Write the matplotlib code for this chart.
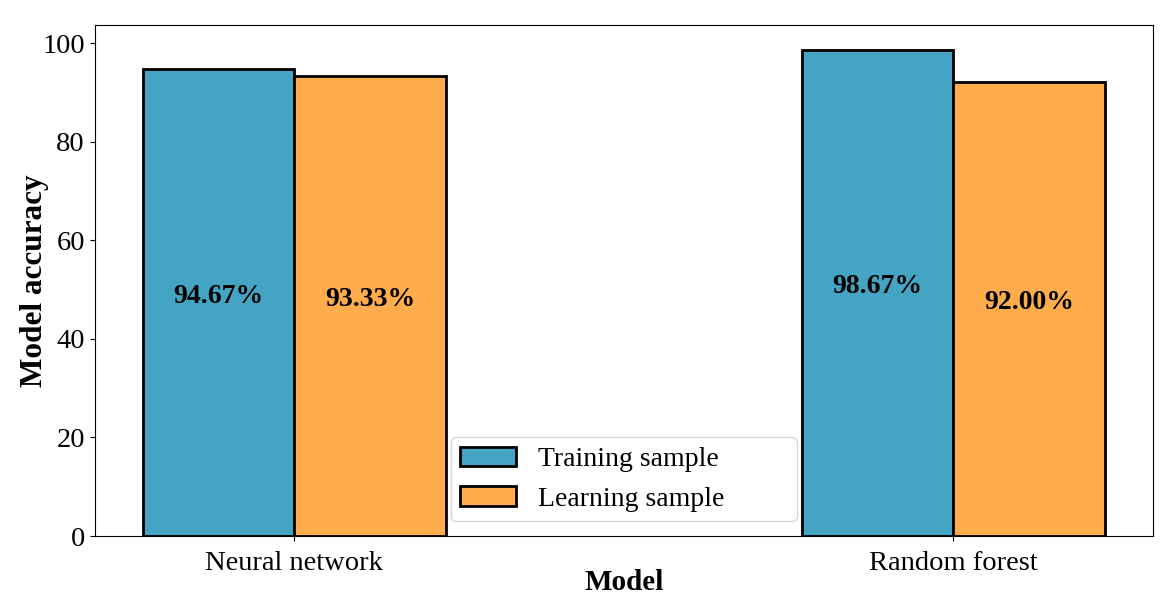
import numpy as np
import matplotlib
matplotlib.use("Agg")
import matplotlib.pyplot as plt

plt.rcParams['font.family'] = ['Liberation Serif', 'DejaVu Serif']

models = ["Neural network", "Random forest"]
training = [94.67, 98.67]
learning = [93.33, 92.00]
series_names = ["Training sample", "Learning sample"]

x = np.arange(len(models))
w = 0.23

fig, ax = plt.subplots(figsize=(11.69, 6.01), dpi=100)
b1 = ax.bar(x - w / 2, training, w, color="#43a4c3", edgecolor="black", linewidth=2, label=series_names[0])
b2 = ax.bar(x + w / 2, learning, w, color="#ffad4c", edgecolor="black", linewidth=2, label=series_names[1])

# value labels sit with their baseline at half the bar height
for bars in (b1, b2):
    for b in bars:
        h = b.get_height()
        ax.text(b.get_x() + b.get_width() / 2, h / 2, f"{h:.2f}%",
                ha="center", va="baseline", fontsize=20, fontweight="bold")

ax.set_xticks(x)
ax.set_xticklabels(models)
ax.tick_params(labelsize=20.5)
ax.tick_params(axis="x", pad=7)
ax.set_xlabel("Model", fontsize=21, fontweight="bold", labelpad=-5)
ax.set_ylabel("Model accuracy", fontsize=22.5, fontweight="bold")
ax.yaxis.set_label_coords(-0.043, 0.5)
ax.legend(loc="lower left", bbox_to_anchor=(0.3365, 0.029, 0.327, 0.2), mode="expand",
          borderaxespad=0, fontsize=20, handlelength=2.0, handleheight=0.7,
          handletextpad=0.8, borderpad=0.35, labelspacing=0.5)

fig.subplots_adjust(left=0.081, right=0.986, top=0.958, bottom=0.108)
fig.savefig("out.png", dpi=100)
